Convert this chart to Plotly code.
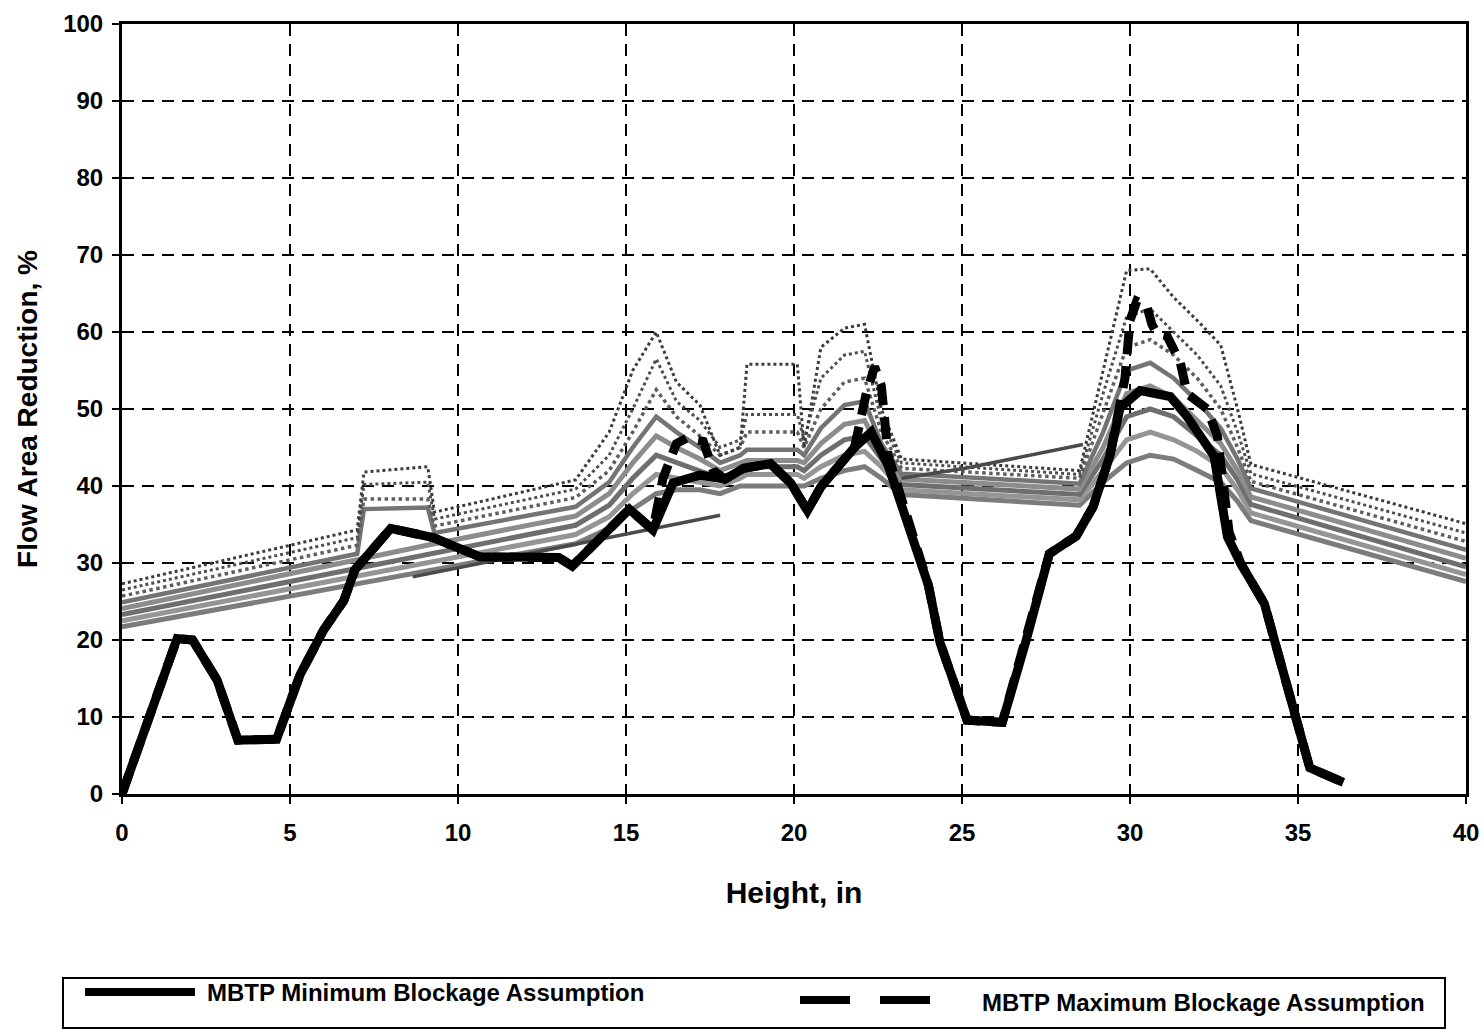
import plotly.graph_objects as go

# ---- MBTP minimum blockage assumption (solid black) ----
MIN_X = [0, 1.64, 2.1, 2.83, 3.45, 4.6, 5.3, 6.0, 6.6, 6.93, 8.0, 9.26, 10.65, 11.55,
         13.0, 13.4, 14.2, 15.1, 15.8, 16.4, 17.2, 17.95, 18.5, 19.3, 19.9, 20.4, 20.8,
         21.8, 22.3, 22.8, 24.0, 24.35, 25.15, 26.2, 26.9, 27.6, 28.4, 28.9, 29.4, 29.7,
         30.3, 31.2, 31.7, 32.1, 32.5, 32.9, 33.3, 34.0, 34.85, 35.35, 36.35]
MIN_Y = [0, 20.2, 20.0, 14.8, 7.0, 7.1, 15.5, 21.3, 25.1, 29.1, 34.5, 33.3, 30.8, 30.7,
         30.7, 29.6, 33.0, 37.0, 34.3, 40.4, 41.4, 40.9, 42.3, 42.9, 40.4, 36.8, 39.9,
         45.0, 47.0, 42.7, 27.1, 19.6, 9.6, 9.3, 19.8, 31.2, 33.5, 37.3, 43.9, 50.1,
         52.4, 51.6, 49.0, 46.4, 43.9, 33.4, 29.9, 24.7, 11.6, 3.4, 1.5]

# ---- MBTP maximum blockage assumption (dashed black) ----
MAX_X = [0, 1.64, 2.1, 2.83, 3.45, 4.6, 5.3, 6.0, 6.6, 6.93, 8.0, 9.26, 10.65, 11.55,
         13.0, 13.4, 14.2, 15.1, 15.8, 16.1, 16.5, 16.8, 17.3, 17.6, 17.95, 18.5, 19.3,
         19.9, 20.4, 20.8, 21.8, 22.15, 22.4, 22.6, 22.8, 24.0, 24.35, 25.15, 26.2, 26.9,
         27.6, 28.4, 28.9, 29.4, 29.85, 30.0, 30.2, 30.5, 30.65, 30.8, 31.1, 31.5, 31.7,
         32.3, 32.6, 32.95, 33.3, 34.0, 34.85, 35.35, 36.35]
MAX_Y = [0, 20.2, 20.0, 14.8, 7.0, 7.1, 15.5, 21.3, 25.1, 29.1, 34.5, 33.3, 30.8, 30.7,
         30.7, 29.6, 33.0, 37.0, 34.3, 41.0, 45.5, 46.2, 45.8, 42.0, 40.9, 42.3, 42.9,
         40.4, 36.8, 39.9, 45.0, 52.0, 55.5, 53.0, 44.0, 27.1, 19.6, 9.6, 9.3, 19.8,
         31.2, 33.5, 37.3, 43.9, 54.0, 61.5, 64.0, 63.4, 61.0, 59.8, 59.5, 56.0, 52.0,
         50.0, 46.5, 34.0, 29.9, 24.7, 11.6, 3.4, 1.5]

# ---- individual measured profiles (gray bundle) on a shared height grid ----
GRAY_X = [0, 7.0, 7.2, 9.1, 9.3, 13.5, 14.5, 15.2, 15.9, 16.5, 17.2, 17.8, 18.4, 18.6,
          20.1, 20.3, 20.8, 21.5, 22.1, 22.6, 23.2, 28.5, 29.2, 29.9, 30.6, 31.3, 32.0,
          32.7, 33.2, 33.6, 40]
GRAY_0 = [21.7, 27.3, 27.5, 29.0, 29.1, 32.5, 34.5, 37.0, 39.0, 39.5, 39.5, 39.0, 40.0,
          40.0, 40.0, 40.0, 41.0, 42.0, 42.5, 41.0, 38.9, 37.5, 40.5, 43.0, 44.0, 43.5,
          42.0, 40.5, 38.0, 35.5, 27.6]
GRAY_1 = [22.5, 28.3, 28.5, 30.0, 30.1, 33.7, 36.0, 39.0, 41.5, 41.0, 40.5, 40.0, 41.0,
          41.5, 41.5, 41.0, 42.5, 44.0, 44.5, 42.5, 39.5, 38.2, 42.0, 46.0, 47.0, 46.0,
          44.5, 42.5, 39.5, 36.5, 28.5]
GRAY_2 = [23.3, 29.3, 29.5, 31.1, 31.2, 34.9, 37.5, 41.0, 44.0, 43.0, 42.0, 41.0, 42.0,
          42.5, 42.5, 42.0, 44.0, 46.0, 46.5, 43.5, 40.2, 38.9, 43.5, 49.0, 50.0, 49.0,
          46.5, 44.0, 40.8, 37.6, 29.5]
GRAY_3 = [24.1, 30.4, 30.6, 32.3, 32.5, 36.1, 39.0, 43.0, 46.5, 45.0, 43.5, 42.0, 43.0,
          43.3, 43.3, 43.0, 45.5, 48.0, 48.5, 44.5, 40.9, 39.6, 45.0, 52.0, 53.0, 51.5,
          48.5, 45.5, 42.0, 38.6, 30.6]
GRAY_4 = [24.9, 31.2, 37.0, 37.2, 33.9, 37.3, 40.5, 45.0, 49.0, 47.0, 45.0, 43.0, 44.0,
          44.7, 44.7, 44.0, 47.5, 50.5, 51.0, 45.5, 41.6, 40.3, 47.0, 55.0, 56.0, 54.0,
          51.0, 47.5, 43.5, 39.7, 31.7]
GRAY_5 = [25.7, 32.3, 38.3, 38.3, 34.8, 38.5, 42.0, 47.0, 52.5, 49.0, 46.5, 44.0, 45.0,
          47.0, 47.0, 45.0, 50.0, 53.5, 54.0, 47.0, 42.3, 41.0, 49.5, 58.0, 59.0, 57.0,
          54.0, 50.0, 45.0, 40.6, 32.8]
GRAY_6 = [26.5, 33.3, 40.2, 40.5, 35.7, 39.6, 44.0, 50.0, 56.5, 51.0, 48.5, 45.0, 46.0,
          49.3, 49.3, 46.0, 54.0, 57.0, 57.5, 48.5, 43.0, 41.5, 52.0, 62.0, 63.0, 60.0,
          57.0, 53.0, 47.0, 41.6, 33.9]
GRAY_7 = [27.3, 34.3, 41.8, 42.5, 36.6, 40.8, 47.0, 55.0, 60.0, 53.5, 50.5, 44.0, 45.0,
          55.8, 55.8, 45.0, 58.0, 60.5, 61.0, 50.0, 43.5, 42.0, 55.0, 68.0, 68.2, 64.5,
          61.5, 58.3, 50.0, 42.8, 35.1]

# two short profiles that run apart from the bundle
SPLIT_A_X = [8.65, 17.8]
SPLIT_A_Y = [28.2, 36.2]
SPLIT_B_X = [23.2, 25.1, 28.6]
SPLIT_B_Y = [41.0, 42.3, 45.4]

X_TICKS = [0, 5, 10, 15, 20, 25, 30, 35, 40]
Y_TICKS = [0, 10, 20, 30, 40, 50, 60, 70, 80, 90, 100]

LEGEND_MIN = "MBTP Minimum Blockage Assumption"
LEGEND_MAX = "MBTP Maximum Blockage Assumption"

FONT = "Liberation Sans, Arial, sans-serif"

fig = go.Figure()

gray_rows = [GRAY_0, GRAY_1, GRAY_2, GRAY_3, GRAY_4, GRAY_5, GRAY_6, GRAY_7]
gray_styles = [
    ("#7c7c7c", 5.0, "solid"),
    ("#959595", 5.0, "solid"),
    ("#6e6e6e", 5.0, "solid"),
    ("#8c8c8c", 5.0, "solid"),
    ("#747474", 4.5, "solid"),
    ("#5e5e5e", 3.5, "dot"),
    ("#4e4e4e", 3.0, "dot"),
    ("#3c3c3c", 3.0, "dot"),
]
for row, (col, wid, dsh) in zip(gray_rows, gray_styles):
    fig.add_trace(go.Scatter(x=GRAY_X, y=row, mode="lines", showlegend=False,
                             line=dict(color=col, width=wid, dash=dsh),
                             hoverinfo="skip"))

for sx, sy in [(SPLIT_A_X, SPLIT_A_Y), (SPLIT_B_X, SPLIT_B_Y)]:
    fig.add_trace(go.Scatter(x=sx, y=sy, mode="lines", showlegend=False,
                             line=dict(color="#4a4a4a", width=3.5), hoverinfo="skip"))

fig.add_trace(go.Scatter(x=MAX_X, y=MAX_Y, mode="lines", name=LEGEND_MAX,
                         showlegend=False,
                         line=dict(color="black", width=9, dash="22px,12px")))
fig.add_trace(go.Scatter(x=MIN_X, y=MIN_Y, mode="lines", name=LEGEND_MIN,
                         showlegend=False,
                         line=dict(color="black", width=9)))

axis_common = dict(
    showline=True, linecolor="black", linewidth=3, mirror=True,
    showgrid=True, gridcolor="black", gridwidth=2, griddash="12px,8px",
    ticks="outside", ticklen=7, tickwidth=2, tickcolor="black",
    zeroline=False,
    tickfont=dict(family=FONT, size=24, color="black", weight="bold"),
)

fig.update_xaxes(range=[0, 40], tickvals=X_TICKS, ticklabelstandoff=8,
                 title=dict(text="<b>Height, in</b>", standoff=38,
                            font=dict(family=FONT, size=30, color="black")),
                 **axis_common)
fig.update_yaxes(range=[0, 100], tickvals=Y_TICKS, ticklabelstandoff=4,
                 title=dict(text="<b>Flow Area Reduction, %</b>", standoff=18,
                            font=dict(family=FONT, size=28, color="black")),
                 **axis_common)

# legend box drawn below the plot area (paper coordinates)
PLOT_L, PLOT_R, PLOT_T, PLOT_B = 122, 1466, 24, 794


def px_x(p):
    return (p - PLOT_L) / (PLOT_R - PLOT_L)


def px_y(p):
    return (PLOT_B - p) / (PLOT_B - PLOT_T)


fig.add_shape(type="rect", xref="paper", yref="paper",
              x0=px_x(63), x1=px_x(1445), y0=px_y(1028), y1=px_y(978),
              line=dict(color="black", width=2), fillcolor="white", layer="above")
fig.add_shape(type="line", xref="paper", yref="paper",
              x0=px_x(85), x1=px_x(195), y0=px_y(992), y1=px_y(992),
              line=dict(color="black", width=8))
fig.add_shape(type="line", xref="paper", yref="paper",
              x0=px_x(800), x1=px_x(935), y0=px_y(1000), y1=px_y(1000),
              line=dict(color="black", width=8, dash="50px,30px"))
fig.add_annotation(text=f"<b>{LEGEND_MIN}</b>", xref="paper", yref="paper",
                   x=px_x(205), y=px_y(992), xanchor="left", yanchor="middle",
                   showarrow=False, font=dict(family=FONT, size=24, color="black"))
fig.add_annotation(text=f"<b>{LEGEND_MAX}</b>", xref="paper", yref="paper",
                   x=px_x(980), y=px_y(1002), xanchor="left", yanchor="middle",
                   showarrow=False, font=dict(family=FONT, size=24, color="black"))

fig.update_layout(
    width=1484, height=1032,
    margin=dict(l=PLOT_L, r=1484 - PLOT_R, t=PLOT_T, b=1032 - PLOT_B, autoexpand=False),
    paper_bgcolor="white", plot_bgcolor="white",
    showlegend=False,
    font=dict(family=FONT, color="black"),
)

fig.write_html("out.html")
